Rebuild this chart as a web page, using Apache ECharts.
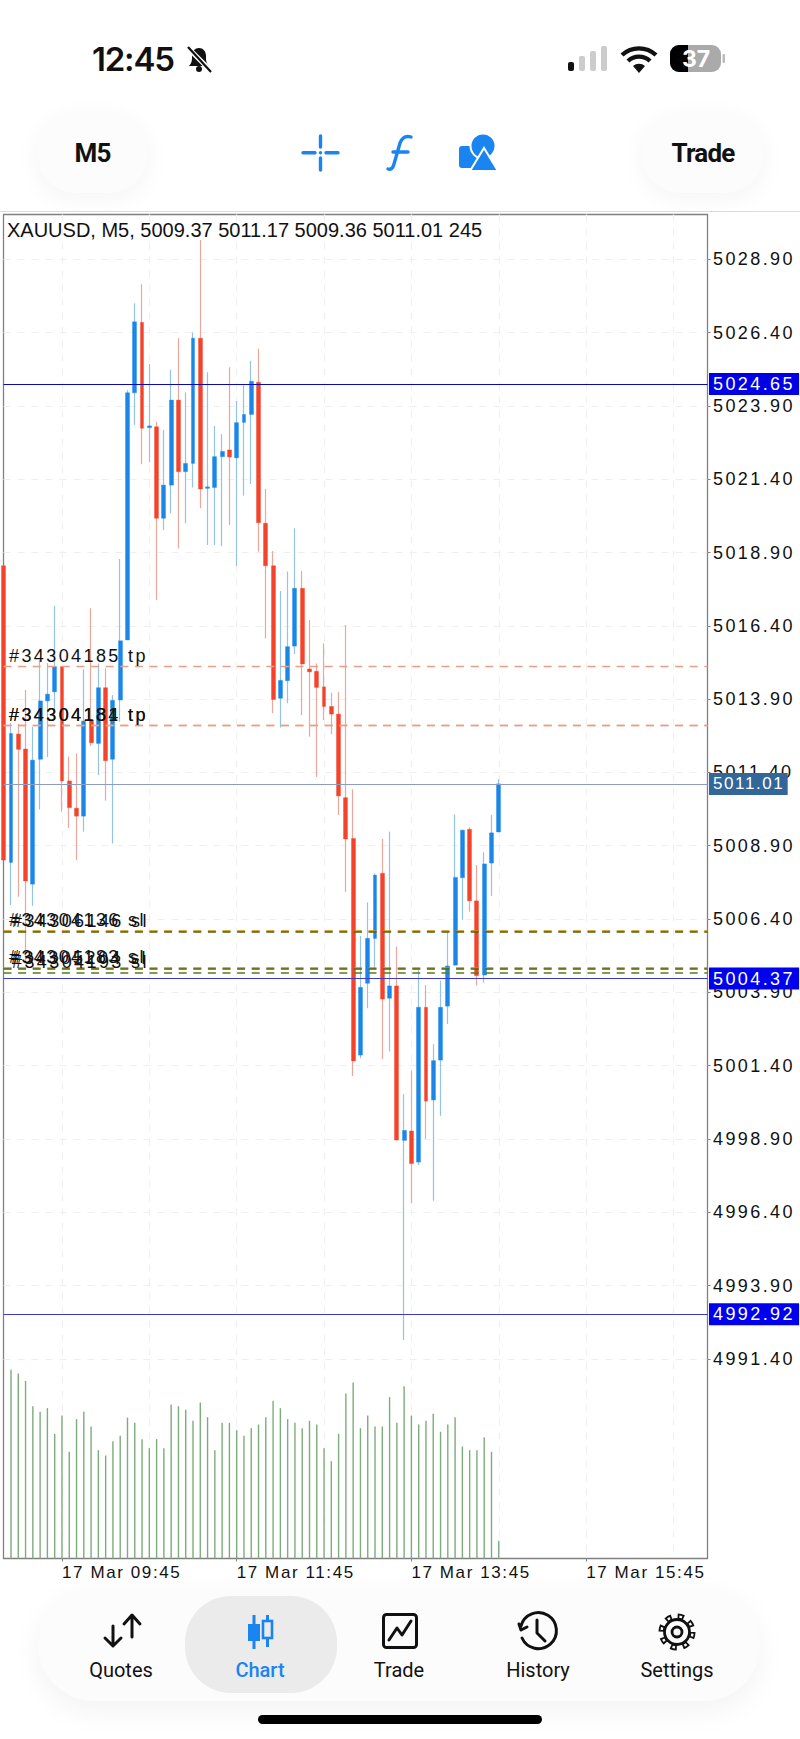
<!DOCTYPE html>
<html>
<head>
<meta charset="utf-8">
<title>XAUUSD M5</title>
<script src="https://cdn.jsdelivr.net/npm/echarts@6/dist/echarts.min.js"></script>
<style>
  html, body { margin: 0; padding: 0; background: #fff; }
  body { position: relative; width: 800px; height: 1739px; overflow: hidden; font-family: Roboto, sans-serif; color: #111; }
  #chart { position: absolute; left: 0; top: 0; width: 800px; height: 1600px; }
  /* metatrader spaces its axis text out, svg text picks this up */
  #chart text[style*="18px"] { letter-spacing: 2.4px; }
  #chart text[style*="17px"] { letter-spacing: 1.6px; }
  .abs { position: absolute; }
  .pill { position: absolute; top: 112px; height: 81px; border-radius: 38px; background: #fcfcfc; box-shadow: 0 6px 26px rgba(0,0,0,.045); display: flex; align-items: center; justify-content: center; font-weight: 700; font-size: 26px; letter-spacing: -.8px; }
  .tab { position: absolute; top: 1658px; width: 120px; margin-left: -60px; text-align: center; font-size: 20px; font-weight: 400; line-height: 24px; }
</style>
</head>
<body>
<div id="chart"></div>

<!-- status bar -->
<div class="abs" style="left:92px;top:39px;font:600 33px/40px Inter;letter-spacing:-1.2px">12:45</div>
<svg class="abs" style="left:0;top:0" width="800" height="212">
  <path d="M189 66 c3-3 3-6 3-10 c0-5 3-8 7-8 c4 0 7 3 7 8 c0 4 0 7 3 10 z" fill="#111"/>
  <circle cx="199" cy="69" r="3" fill="#111"/>
  <path d="M187 47 L212 72" stroke="#fff" stroke-width="5"/>
  <path d="M188 47 L211 72" stroke="#111" stroke-width="2.2"/>
  <rect x="568" y="62" width="6" height="9" rx="2" fill="#111"/>
  <rect x="579" y="56" width="6" height="15" rx="2" fill="#ccc"/>
  <rect x="590" y="51" width="6" height="20" rx="2" fill="#ccc"/>
  <rect x="601" y="46" width="6" height="25" rx="2" fill="#ccc"/>
  <path d="M622 55 a25 25 0 0 1 34 0 M628 61 a16 16 0 0 1 22 0" fill="none" stroke="#111" stroke-width="4.4"/>
  <path d="M633 66 a9 9 0 0 1 12 0 L639 73 z" fill="#111"/>
  <rect x="670" y="45" width="51" height="27" rx="9" fill="#aaa"/>
  <path d="M688 45 H679 a9 9 0 0 0 -9 9 v9 a9 9 0 0 0 9 9 H688 z" fill="#000"/>
  <rect x="722.5" y="54" width="2.5" height="9" rx="1" fill="#bbb"/>
  <text x="696" y="67" text-anchor="middle" font-family="Inter" font-weight="700" font-size="23" fill="#fff">37</text>
  <!-- chart toolbar icons -->
  <g stroke="#1a84f0" stroke-width="3.4" stroke-linecap="round" fill="none">
    <path d="M303 152.7 H315 M326 152.7 H338 M320.5 136 V147 M320.5 158 V170"/>
  </g>
  <circle cx="320.5" cy="152.7" r="1.7" fill="#1a84f0"/>
  <path d="M411 137 c-6-2-9 1-11 6 l-6 21 c-1 4-3 6-6 5 M393 152 H408" fill="none" stroke="#1a84f0" stroke-width="3.4" stroke-linecap="round"/>
  <rect x="459" y="146" width="19" height="22" rx="3" fill="#1a84f0"/>
  <circle cx="483" cy="146" r="12.5" fill="#1a84f0" stroke="#fff" stroke-width="2"/>
  <path d="M484 148 L498 171 H470 z" fill="#1a84f0" stroke="#fff" stroke-width="2"/>
  <path d="M0 211.5 H800" stroke="#dcdcdc" stroke-width="1"/>
</svg>

<!-- toolbar buttons -->
<div class="pill" style="left:37px;width:111px">M5</div>
<div class="pill" style="left:642px;width:122px">Trade</div>

<!-- bottom tab bar -->
<div class="abs" style="left:38px;top:1587px;width:722px;height:114px;border-radius:56px;background:#fcfcfc;box-shadow:0 10px 30px rgba(0,0,0,.05)"></div>
<div class="abs" style="left:185px;top:1596px;width:152px;height:97px;border-radius:46px;background:#ebebeb"></div>
<svg class="abs" style="left:0;top:1600px" width="800" height="60">
  <g fill="none" stroke="#111" stroke-width="3" stroke-linecap="round" stroke-linejoin="round">
    <path d="M113 26 V46 M105 38 L113 46 L121 38"/>
    <path d="M132 37 V16 M124 24 L132 15 L140 24"/>
    <rect x="383.5" y="14.5" width="33" height="33" rx="3"/>
    <path d="M389 40 L397 28 L402 35 L411 21"/>
    <path d="M522 38 a18 18 0 1 0 -1 -12 M519 24 l2 6 l6 -3"/>
    <path d="M537 20 V33 L545 41"/>
  </g>
  <circle cx="677" cy="32" r="15.5" fill="none" stroke="#111" stroke-width="6" stroke-dasharray="6.2 6"/>
  <circle cx="677" cy="32" r="15.5" fill="none" stroke="#fcfcfc" stroke-width="2.4" stroke-dasharray="2.6 9.6" stroke-dashoffset="-1.8"/>
  <circle cx="677" cy="32" r="12.5" fill="#fcfcfc" stroke="#111" stroke-width="2.8"/>
  <circle cx="677" cy="32" r="5" fill="none" stroke="#111" stroke-width="2.8"/>
  <g fill="#1a84f0">
    <rect x="252.5" y="15" width="3" height="34"/>
    <rect x="248" y="24" width="12" height="17"/>
    <rect x="266" y="15" width="3" height="32"/>
  </g>
  <rect x="263" y="21" width="9" height="17" fill="#ebebeb" stroke="#1a84f0" stroke-width="2.6"/>
</svg>
<div class="tab" style="left:121px">Quotes</div>
<div class="tab" style="left:260px;color:#1a84f0;font-weight:500">Chart</div>
<div class="tab" style="left:399px">Trade</div>
<div class="tab" style="left:538px">History</div>
<div class="tab" style="left:677px">Settings</div>
<div class="abs" style="left:258px;top:1715px;width:284px;height:9px;border-radius:5px;background:#000"></div>

<script>
// bars are 5 minutes apart, first one starts 09:05 and is cut by the left edge
var startMinute = 545;
var barMinutes = 5;

var opens = [5018.45,5008.33,5012.71,5012.20,5007.59,5011.85,5013.84,5014.15,5015.01,5011.11,5010.18,5009.91,5013.19,5012.39,5014.29,5011.85,5013.87,5015.92,5024.35,5026.75,5023.16,5023.19,5020.07,5021.20,5024.10,5021.66,5021.94,5026.21,5021.09,5021.12,5022.17,5022.40,5022.13,5023.34,5023.61,5024.71,5019.90,5018.45,5013.93,5014.53,5015.71,5017.68,5014.93,5014.85,5014.32,5013.65,5013.39,5010.54,5009.15,5001.76,5004.21,5005.74,5007.96,5003.70,5004.12,4998.85,4999.17,4998.11,5003.39,5000.23,5001.59,5003.43,5004.83,5007.81,5009.46,5007.02,5004.49,5008.31,5009.37];
var closes = [5008.41,5012.73,5012.19,5007.70,5011.82,5013.84,5014.07,5015.01,5011.11,5010.20,5009.91,5013.15,5012.41,5014.29,5011.80,5013.86,5015.89,5024.35,5026.77,5023.14,5023.22,5020.07,5021.20,5024.10,5021.66,5021.94,5026.21,5021.07,5021.14,5022.17,5022.35,5022.16,5023.33,5023.61,5024.74,5019.92,5018.45,5013.89,5014.54,5015.69,5017.68,5015.10,5014.83,5014.30,5013.65,5013.39,5010.60,5009.13,5001.56,5004.07,5005.74,5007.90,5003.67,5004.12,4998.86,4999.19,4998.06,5003.39,5000.19,5001.57,5003.39,5004.80,5007.82,5009.43,5007.02,5004.47,5008.28,5009.34,5011.01];
var lows = [5008.41,5006.88,5007.16,5005.00,5006.85,5010.14,5011.92,5013.53,5010.06,5009.51,5008.41,5009.38,5012.30,5011.31,5010.44,5008.98,5013.13,5015.92,5023.25,5021.91,5021.98,5017.28,5019.67,5020.24,5019.04,5019.90,5021.12,5020.41,5019.16,5019.16,5019.12,5019.84,5018.44,5020.84,5021.24,5018.93,5015.97,5013.42,5012.93,5013.76,5015.44,5013.36,5012.62,5011.25,5013.19,5012.71,5009.95,5007.33,5001.05,5001.65,5003.36,5004.66,5001.62,5001.88,4998.86,4992.04,4996.70,4998.01,4998.90,4996.79,4999.69,5002.82,5004.80,5006.37,5006.65,5004.13,5004.23,5007.19,5009.36];
var highs = [5018.45,5013.09,5013.05,5014.21,5012.96,5015.23,5015.13,5017.08,5015.01,5011.94,5012.05,5014.92,5017.00,5015.12,5014.95,5014.04,5018.68,5024.44,5027.40,5028.05,5025.33,5023.36,5023.08,5025.13,5026.21,5024.36,5026.41,5029.56,5025.05,5023.22,5022.94,5025.22,5024.07,5024.61,5025.44,5025.85,5021.07,5018.95,5017.59,5018.25,5019.73,5018.27,5016.60,5015.12,5015.80,5014.12,5014.15,5016.43,5010.83,5005.82,5006.97,5007.95,5009.13,5009.38,5005.46,5000.43,5001.23,5004.66,5004.15,5002.13,5004.30,5005.97,5009.97,5009.45,5009.53,5008.24,5008.68,5009.95,5011.17];
// first bar has no visible volume, it sits under the frame
var volumes = [null,2615,2564,2462,2111,2033,2084,1728,1982,1478,1931,2033,1830,1502,1428,1626,1700,1954,1880,1654,1529,1654,1529,2134,2111,2061,1908,2162,1959,1502,1880,1880,1779,1700,1806,1857,1959,2185,2084,1931,1880,1806,1908,1857,1529,1349,1728,2287,2439,1806,1982,1830,1830,2236,1880,2389,1982,1857,1908,2005,1756,1857,1959,1552,1502,1502,1682,1478,245];

var priceTicks = [4991.40,4993.90,4996.40,4998.90,5001.40,5003.90,5006.40,5008.90,5011.40,5013.90,5016.40,5018.90,5021.40,5023.90,5026.40,5028.90];
var hourTicks = [585,645,705,765,825,885,945,1005];
var timeTicks = [585,705,825,945];

var tagLevels = [5024.65,5011.01,5004.37,4992.92];
var tpLevels = [5015.02,5013.01,5013.01];
var tpNames = ["#34304185 tp","#34304184 tp","#34304181 tp"];
var slLevels = [5006.01,5005.97,5004.74,5004.70,5004.56];
var slNames = ["#34304136 sl","#34306146 sl","#34304183 sl","#34305204 sl","#34304193 sl"];
var header = "XAUUSD, M5, 5009.37 5011.17 5009.36 5011.01 245";

var tagColors = ["#0000e6","#336699","#0000f0","#0000f0"];
var tagLines = ["#0a0ab4","#8c9cc4","#3c3cc8","#3c3cc8"];
var tagFontSize = [18,17,18,18];
var tagRightPad = [21,14.5,21,21];
var slColors = ["#cf8a08","#4a6414","#cf8a08","#4a6414","#5a7a20"];
var slShift = [0,3,0,2,3];

function xOf(i) { return startMinute + barMinutes * i; }
function fmtTime(m) {
  var h = Math.floor(m / 60), mm = m % 60;
  return "17 Mar " + (h < 10 ? "0" : "") + h + ":" + (mm < 10 ? "0" : "") + mm;
}

var wicks = opens.map(function (o, i) { return [xOf(i), o, closes[i], lows[i], highs[i]]; });
var bodies = opens.map(function (o, i) {
  return [xOf(i), o, closes[i], Math.min(o, closes[i]), Math.max(o, closes[i])];
});
var volumeBars = volumes.map(function (v, i) { return [xOf(i), v]; });

var lines = [];
tagLevels.forEach(function (v, i) {
  lines.push({
    yAxis: v,
    lineStyle: { color: tagLines[i], type: "solid", width: 1.2 },
    label: { show: true, position: "end", distance: 1.5, formatter: v.toFixed(2), color: "#fff", fontSize: tagFontSize[i],
      lineHeight: 18, backgroundColor: tagColors[i], padding: [2, tagRightPad[i], 2, 4] }
  });
});
function orderLine(v, name, color, shift, width) {
  return {
    yAxis: v,
    lineStyle: { color: color, type: [8, 6.6], width: width },
    label: { show: true, position: "insideStartTop", distance: 1.5, formatter: name, color: "#111", fontSize: 18,
      padding: [0, 0, 0, 4 + shift] }
  };
}
tpLevels.forEach(function (v, i) { lines.push(orderLine(v, tpNames[i], "#ea9e86", 0, 1.3)); });
slLevels.forEach(function (v, i) { lines.push(orderLine(v, slNames[i], slColors[i], slShift[i], 1.7)); });

var chart = echarts.init(document.getElementById("chart"), null, { renderer: "svg" });
chart.setOption({
  animation: false,
  textStyle: { fontFamily: "Liberation Sans" },
  title: {
    text: header, left: 7, top: 220, padding: 0,
    textStyle: { fontSize: 20, fontWeight: "normal", color: "#111", fontFamily: "Liberation Sans" }
  },
  grid: [
    { left: 3.5, top: 214.5, width: 704, height: 1344, show: true, borderColor: "#808080", borderWidth: 1.3, backgroundColor: "#fff" },
    { left: 3.5, top: 1350, width: 704, height: 208.5 }
  ],
  xAxis: [
    {
      type: "value", gridIndex: 0, min: 544.85, max: 1028.35,
      axisLine: { show: false },
      axisTick: { show: false, customValues: hourTicks },
      axisLabel: { show: false, customValues: hourTicks },
      splitLine: { show: true, lineStyle: { color: "#efefef", type: [7, 7], width: 1.2 } }
    },
    {
      type: "value", gridIndex: 1, min: 544.85, max: 1028.35,
      axisLine: { show: false },
      axisTick: { show: true, length: 3, customValues: timeTicks, lineStyle: { color: "#808080" } },
      axisLabel: { show: true, customValues: timeTicks, align: "left", margin: 5, fontSize: 17, color: "#111", formatter: fmtTime },
      splitLine: { show: false }
    }
  ],
  yAxis: [
    {
      type: "value", gridIndex: 0, position: "right", min: 4984.59, max: 5030.43,
      axisLine: { show: false },
      axisTick: { show: true, length: 3, customValues: priceTicks, lineStyle: { color: "#808080" } },
      axisLabel: { show: true, customValues: priceTicks, margin: 5.5, fontSize: 18, color: "#111",
        formatter: function (v) { return v.toFixed(2); } },
      splitLine: { show: true, lineStyle: { color: "#efefef", type: [7, 7], width: 1.2 } }
    },
    {
      type: "value", gridIndex: 1, min: 0, max: 2890,
      axisLine: { show: false }, axisTick: { show: false }, axisLabel: { show: false }, splitLine: { show: false }
    }
  ],
  series: [
    {
      // wicks are paler than the bodies, so they get their own pass underneath
      name: "wicks", type: "candlestick", xAxisIndex: 0, yAxisIndex: 0, barWidth: 1, silent: true,
      data: wicks,
      itemStyle: { color: "#93c4e8", color0: "#eaa79c", borderColor: "#93c4e8", borderColor0: "#eaa79c", borderWidth: 1.2 }
    },
    {
      name: "bodies", type: "candlestick", xAxisIndex: 0, yAxisIndex: 0, barWidth: 4.4, silent: true,
      data: bodies,
      itemStyle: { color: "#1a87e8", color0: "#f4432a", borderColor: "#1a87e8", borderColor0: "#f4432a", borderWidth: 0.4 },
      markLine: { silent: true, symbol: "none", animation: false, data: lines }
    },
    {
      name: "volume", type: "bar", xAxisIndex: 1, yAxisIndex: 1, barWidth: 1.4, silent: true,
      data: volumeBars,
      itemStyle: { color: "#7cac7c" }
    }
  ]
});
</script>
</body>
</html>
